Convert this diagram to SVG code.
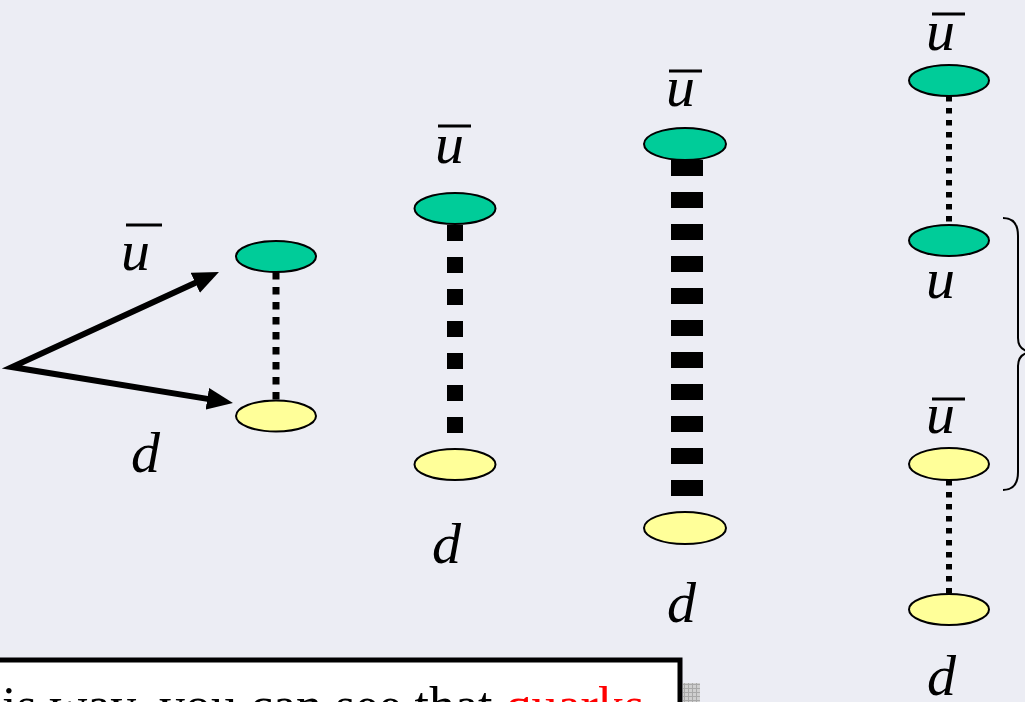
<svg xmlns="http://www.w3.org/2000/svg" width="1025" height="702" viewBox="0 0 1025 702">
  <style>
    .quark-g { fill: #00CC99; stroke: #000; stroke-width: 2; }
    .quark-y { fill: #FFFF99; stroke: #000; stroke-width: 2; }
    .lbl { font-family: "Liberation Serif", "Times New Roman", serif; font-style: italic; font-size: 58px; fill: #000; }
    .bar { stroke: #000; stroke-width: 3; }
    .string { stroke: #000; fill: none; }
    .fine { stroke-width: 6; stroke-dasharray: 5.5 6.5; }
    .thin { stroke-width: 7; stroke-dasharray: 7.5 7.5; }
    .mid { stroke-width: 16; stroke-dasharray: 16 16; }
    .thick { stroke-width: 32; stroke-dasharray: 16 16; }
    .note { font-family: "Liberation Serif", "Times New Roman", serif; font-size: 52px; fill: #000; }
  </style>
  <defs>
    <marker id="head" markerUnits="userSpaceOnUse" viewBox="0 0 26 22" markerWidth="26" markerHeight="22" refX="8" refY="11" orient="auto-start-reverse">
      <path d="M0,0 L26,11 L0,22 z" fill="#000"/>
    </marker>
    <pattern id="grid" patternUnits="userSpaceOnUse" width="4" height="4">
      <rect width="4" height="4" fill="#cfcfcf"/>
      <path d="M0,0.5 H4 M0.5,0 V4" stroke="#a9a9a9" stroke-width="1"/>
    </pattern>
  </defs>

  <!-- background -->
  <rect width="1025" height="702" fill="#ECEDF4"/>

  <!-- strings and arrows -->
  <g id="connectors">
    <path d="M202.6,279.5 L12,367 L215.2,400.1" fill="none" stroke="#000" stroke-width="6" stroke-linejoin="miter" marker-start="url(#head)" marker-end="url(#head)"/>
    <line class="string thin" x1="276" y1="272" x2="276" y2="400"/>
    <line class="string mid" x1="455" y1="225" x2="455" y2="433"/>
    <line class="string thick" x1="687" y1="160" x2="687" y2="496"/>
    <line class="string fine" x1="949" y1="96" x2="949" y2="224"/>
    <line class="string fine" x1="949" y1="480" x2="949" y2="594"/>
    <!-- brace grouping the middle pair -->
    <path d="M1003,218 Q1018,218 1018,236 L1018,338 Q1018,350 1030,352 Q1018,354 1018,366 L1018,472 Q1018,490 1003,490" fill="none" stroke="#000" stroke-width="2"/>
  </g>

  <!-- meson 1 -->
  <g id="pair1-ubar">
    <ellipse class="quark-g" cx="276" cy="256.5" rx="40" ry="15.5"/>
    <line class="bar" x1="126" y1="225" x2="162" y2="225"/>
    <text class="lbl" x="121" y="270">u</text>
  </g>
  <g id="pair1-d">
    <ellipse class="quark-y" cx="276" cy="416" rx="40" ry="15.5"/>
    <text class="lbl" x="131" y="472">d</text>
  </g>

  <!-- meson 2 -->
  <g id="pair2-ubar">
    <ellipse class="quark-g" cx="455" cy="208.5" rx="40.5" ry="15.5"/>
    <line class="bar" x1="438" y1="126" x2="471" y2="126"/>
    <text class="lbl" x="435" y="163">u</text>
  </g>
  <g id="pair2-d">
    <ellipse class="quark-y" cx="455" cy="464.5" rx="40.5" ry="15.5"/>
    <text class="lbl" x="432" y="563">d</text>
  </g>

  <!-- meson 3 -->
  <g id="pair3-ubar">
    <ellipse class="quark-g" cx="685" cy="144" rx="41" ry="16"/>
    <line class="bar" x1="669" y1="71" x2="702" y2="71"/>
    <text class="lbl" x="666" y="106">u</text>
  </g>
  <g id="pair3-d">
    <ellipse class="quark-y" cx="685" cy="528" rx="41" ry="16"/>
    <text class="lbl" x="667" y="622">d</text>
  </g>

  <!-- broken string: two mesons -->
  <g id="pair4-ubar">
    <ellipse class="quark-g" cx="949" cy="80.5" rx="40" ry="15.5"/>
    <line class="bar" x1="932" y1="14" x2="965" y2="14"/>
    <text class="lbl" x="926" y="50">u</text>
  </g>
  <g id="pair4-u">
    <ellipse class="quark-g" cx="949" cy="240.5" rx="40" ry="15.5"/>
    <text class="lbl" x="926" y="298">u</text>
  </g>
  <g id="pair4-ubar2">
    <ellipse class="quark-y" cx="949" cy="464" rx="40" ry="16"/>
    <line class="bar" x1="932" y1="399" x2="965" y2="399"/>
    <text class="lbl" x="926" y="433">u</text>
  </g>
  <g id="pair4-d">
    <ellipse class="quark-y" cx="949" cy="609.5" rx="40" ry="15.5"/>
    <text class="lbl" x="927" y="695">d</text>
  </g>

  <!-- caption box -->
  <g id="caption">
    <rect x="683" y="683" width="17" height="25" fill="url(#grid)"/>
    <rect x="-10" y="660" width="690" height="70" fill="#fff" stroke="#000" stroke-width="5"/>
    <text class="note" x="2" y="723">is way, you can see that <tspan fill="#FF0000">quarks</tspan></text>
  </g>
</svg>
